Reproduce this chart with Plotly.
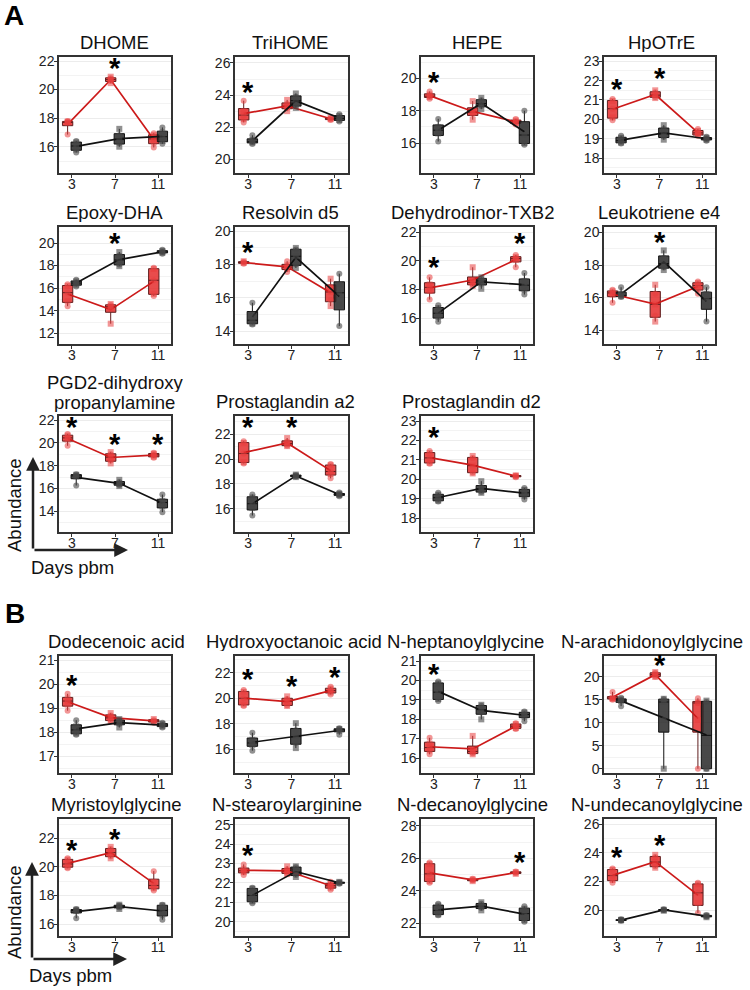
import numpy as np
import plotly.graph_objects as go

DAYS = ["3", "7", "11"]

# ---------------- data: replicate abundances per day [3, 7, 11] ----------------
DHOME_RED = [[16.85, 17.68, 17.72, 17.76, 17.8], [20.45, 20.6, 20.7, 20.8, 20.9], [15.95, 16.3, 16.55, 16.8, 16.95]]
DHOME_BLACK = [[15.6, 15.8, 16.05, 16.3, 16.4], [16.0, 16.25, 16.5, 16.8, 17.25], [16.2, 16.4, 16.7, 17.0, 17.35]]
DHOME_SIG = ["7"]
DHOME_TICKS = [16, 18, 20, 22]

TRIHOME_RED = [[22.3, 22.5, 22.75, 23.0, 23.65], [23.0, 23.2, 23.3, 23.45, 23.7], [22.45, 22.5, 22.55, 22.6]]
TRIHOME_BLACK = [[20.95, 21.05, 21.1, 21.2, 21.5], [23.2, 23.35, 23.65, 23.9, 24.1], [22.35, 22.45, 22.55, 22.7, 22.8]]
TRIHOME_SIG = ["3"]
TRIHOME_TICKS = [20, 22, 24, 26]

HEPE_RED = [[18.75, 18.85, 18.9, 19.0, 19.2], [17.45, 17.8, 17.9, 18.05, 18.6], [17.15, 17.25, 17.3, 17.4, 17.5]]
HEPE_BLACK = [[16.1, 16.6, 16.8, 17.0, 17.5], [18.1, 18.3, 18.45, 18.65, 18.8], [15.9, 16.0, 16.5, 17.1, 18.0]]
HEPE_SIG = ["3"]
HEPE_TICKS = [16, 18, 20]

HPOTRE_RED = [[19.95, 20.1, 20.55, 20.95, 21.05], [21.1, 21.15, 21.25, 21.4, 21.5], [19.15, 19.2, 19.3, 19.4, 19.5]]
HPOTRE_BLACK = [[18.75, 18.8, 18.9, 19.05, 19.15], [18.95, 19.1, 19.25, 19.5, 19.7], [18.9, 18.95, 19.0, 19.05, 19.1]]
HPOTRE_SIG = ["3", "7"]
HPOTRE_TICKS = [18, 19, 20, 21, 22, 23]

EPOXY_RED = [[14.4, 14.85, 15.6, 16.2, 16.35], [12.85, 14.2, 14.35, 14.5, 14.6], [15.3, 15.5, 16.7, 17.7, 17.8]]
EPOXY_BLACK = [[16.15, 16.3, 16.45, 16.6, 16.75], [17.95, 18.1, 18.5, 18.9, 19.2], [19.05, 19.15, 19.2, 19.3, 19.4]]
EPOXY_SIG = ["7"]
EPOXY_TICKS = [12, 14, 16, 18, 20]

RESOLVIN_RED = [[18.05, 18.1, 18.15, 18.2], [17.55, 17.75, 17.85, 17.95, 18.2], [15.5, 15.85, 16.35, 16.65, 17.15]]
RESOLVIN_BLACK = [[14.4, 14.45, 14.65, 15.0, 15.7], [17.8, 18.0, 18.5, 18.9, 19.0], [14.3, 15.6, 16.3, 16.8, 17.45]]
RESOLVIN_SIG = ["3"]
RESOLVIN_TICKS = [14, 16, 18, 20]

TXB2_RED = [[17.3, 17.9, 18.15, 18.35, 18.85], [18.25, 18.35, 18.5, 18.65, 19.55], [19.55, 20.05, 20.15, 20.25, 20.4]]
TXB2_BLACK = [[15.75, 16.1, 16.35, 16.7, 16.9], [18.05, 18.4, 18.6, 18.75, 18.85], [17.65, 18.0, 18.3, 18.6, 19.15]]
TXB2_SIG = ["3", "11"]
TXB2_TICKS = [16, 18, 20, 22]

LTE4_RED = [[15.7, 16.2, 16.3, 16.4, 16.5], [14.55, 14.9, 15.6, 16.25, 16.8], [16.25, 16.55, 16.75, 16.9, 17.0]]
LTE4_BLACK = [[16.05, 16.1, 16.15, 16.25, 16.65], [17.7, 17.85, 18.1, 18.45, 18.9], [14.55, 15.55, 15.95, 16.25, 16.65]]
LTE4_SIG = ["7"]
LTE4_TICKS = [14, 16, 18, 20]

PGD2DP_RED = [[19.75, 20.3, 20.45, 20.65, 20.8], [18.2, 18.45, 18.75, 19.0, 19.2], [18.7, 18.8, 18.95, 19.05, 19.15]]
PGD2DP_BLACK = [[16.25, 17.05, 17.1, 17.2, 17.25], [16.2, 16.3, 16.4, 16.55, 16.75], [13.9, 14.4, 14.75, 14.9, 15.45]]
PGD2DP_SIG = ["3", "7", "11"]
PGD2DP_TICKS = [14, 16, 18, 20, 22]

PGA2_RED = [[19.65, 19.75, 20.45, 21.3, 21.45], [21.05, 21.1, 21.25, 21.4, 21.7], [18.45, 18.8, 19.0, 19.5, 19.6]]
PGA2_BLACK = [[15.45, 16.05, 16.4, 16.9, 17.15], [18.55, 18.6, 18.65, 18.7, 18.75], [17.0, 17.1, 17.15, 17.2, 17.3]]
PGA2_SIG = ["3", "7"]
PGA2_TICKS = [16, 18, 20, 22]

PGD2_RED = [[20.8, 20.85, 21.1, 21.35, 21.45], [20.3, 20.35, 20.7, 21.1, 21.2], [20.1, 20.15, 20.18, 20.2]]
PGD2_BLACK = [[18.85, 18.9, 19.05, 19.2, 19.3], [19.3, 19.35, 19.5, 19.6, 19.9], [18.95, 19.15, 19.3, 19.45, 19.55]]
PGD2_SIG = ["3"]
PGD2_TICKS = [18, 19, 20, 21, 22, 23]

DODEC_RED = [[18.9, 19.15, 19.3, 19.4, 19.6], [18.45, 18.5, 18.6, 18.7, 18.8], [18.4, 18.45, 18.5, 18.55]]
DODEC_BLACK = [[17.9, 17.95, 18.1, 18.25, 18.5], [18.2, 18.35, 18.42, 18.5, 18.55], [18.2, 18.25, 18.3, 18.35, 18.4]]
DODEC_SIG = ["3"]
DODEC_TICKS = [17, 18, 19, 20, 21]

HYDROXY_RED = [[19.4, 19.5, 20.0, 20.5, 20.65], [19.4, 19.45, 19.75, 19.95, 20.15], [20.3, 20.45, 20.6, 20.75, 20.9]]
HYDROXY_BLACK = [[15.9, 16.35, 16.5, 16.75, 17.3], [16.1, 16.5, 17.0, 17.5, 18.05], [17.15, 17.45, 17.55, 17.6, 17.65]]
HYDROXY_SIG = ["3", "7", "11"]
HYDROXY_TICKS = [16, 18, 20, 22]

HEPTA_RED = [[16.2, 16.4, 16.55, 16.75, 17.05], [16.2, 16.25, 16.35, 16.45, 17.15], [17.5, 17.55, 17.65, 17.75, 17.8]]
HEPTA_BLACK = [[18.95, 19.05, 19.4, 19.85, 19.95], [18.0, 18.35, 18.5, 18.7, 18.75], [17.9, 18.15, 18.25, 18.35, 18.4]]
HEPTA_SIG = ["3"]
HEPTA_TICKS = [16, 17, 18, 19, 20, 21]

ARACH_RED = [[15.0, 15.2, 15.3, 15.35, 16.7], [19.95, 20.05, 20.45, 20.8, 21.0], [0.0, 10.6, 14.3, 14.4, 15.3]]
ARACH_BLACK = [[13.6, 14.7, 14.9, 15.1, 15.4], [0.0, 10.6, 14.5, 15.1, 15.2], [0.0, 0.0, 14.5, 14.8]]
ARACH_SIG = ["7"]
ARACH_TICKS = [0, 5, 10, 15, 20]

MYRIS_RED = [[19.9, 20.0, 20.2, 20.5, 20.6], [20.6, 20.75, 21.0, 21.25, 21.4], [18.35, 18.5, 18.7, 18.95, 19.7]]
MYRIS_BLACK = [[16.4, 16.9, 16.95, 17.0, 17.05], [17.05, 17.15, 17.25, 17.3, 17.35], [16.3, 16.65, 16.95, 17.3, 17.35]]
MYRIS_SIG = ["3", "7"]
MYRIS_TICKS = [16, 18, 20, 22]

STEAR_RED = [[22.4, 22.55, 22.62, 22.7, 22.95], [22.45, 22.5, 22.6, 22.7, 22.85], [21.65, 21.75, 21.85, 21.95, 22.05]]
STEAR_BLACK = [[20.95, 21.05, 21.35, 21.7, 21.75], [22.3, 22.4, 22.55, 22.8, 22.85], [21.95, 22.0, 22.02, 22.05]]
STEAR_SIG = ["3"]
STEAR_TICKS = [20, 21, 22, 23, 24, 25]

DECAN_RED = [[24.5, 24.6, 25.05, 25.65, 25.75], [24.6, 24.65, 24.7, 24.75], [25.05, 25.1, 25.15, 25.2]]
DECAN_BLACK = [[22.5, 22.55, 22.8, 23.1, 23.2], [22.8, 22.95, 23.05, 23.2, 23.3], [22.1, 22.2, 22.6, 22.9, 23.05]]
DECAN_SIG = ["11"]
DECAN_TICKS = [22, 24, 26, 28]

UNDEC_RED = [[21.9, 22.1, 22.4, 22.8, 22.9], [22.95, 23.05, 23.35, 23.7, 23.85], [19.8, 20.5, 21.2, 21.8, 21.9]]
UNDEC_BLACK = [[19.25, 19.28, 19.3, 19.32, 19.35], [19.95, 20.0, 20.02, 20.05], [19.5, 19.55, 19.6, 19.65]]
UNDEC_SIG = ["3", "7"]
UNDEC_TICKS = [20, 22, 24, 26]

TITLES = ["DHOME", "TriHOME", "HEPE", "HpOTrE",
          "Epoxy-DHA", "Resolvin d5", "Dehydrodinor-TXB2", "Leukotriene e4",
          ["PGD2-dihydroxy", "propanylamine"], "Prostaglandin a2", "Prostaglandin d2",
          "Dodecenoic acid", "Hydroxyoctanoic acid", "N-heptanoylglycine", "N-arachidonoylglycine",
          "Myristoylglycine", "N-stearoylarginine", "N-decanoylglycine", "N-undecanoylglycine"]
RED = [DHOME_RED, TRIHOME_RED, HEPE_RED, HPOTRE_RED, EPOXY_RED, RESOLVIN_RED, TXB2_RED, LTE4_RED,
       PGD2DP_RED, PGA2_RED, PGD2_RED, DODEC_RED, HYDROXY_RED, HEPTA_RED, ARACH_RED,
       MYRIS_RED, STEAR_RED, DECAN_RED, UNDEC_RED]
BLACK = [DHOME_BLACK, TRIHOME_BLACK, HEPE_BLACK, HPOTRE_BLACK, EPOXY_BLACK, RESOLVIN_BLACK, TXB2_BLACK, LTE4_BLACK,
         PGD2DP_BLACK, PGA2_BLACK, PGD2_BLACK, DODEC_BLACK, HYDROXY_BLACK, HEPTA_BLACK, ARACH_BLACK,
         MYRIS_BLACK, STEAR_BLACK, DECAN_BLACK, UNDEC_BLACK]
SIG = [DHOME_SIG, TRIHOME_SIG, HEPE_SIG, HPOTRE_SIG, EPOXY_SIG, RESOLVIN_SIG, TXB2_SIG, LTE4_SIG,
       PGD2DP_SIG, PGA2_SIG, PGD2_SIG, DODEC_SIG, HYDROXY_SIG, HEPTA_SIG, ARACH_SIG,
       MYRIS_SIG, STEAR_SIG, DECAN_SIG, UNDEC_SIG]
TICKS = [DHOME_TICKS, TRIHOME_TICKS, HEPE_TICKS, HPOTRE_TICKS, EPOXY_TICKS, RESOLVIN_TICKS, TXB2_TICKS, LTE4_TICKS,
         PGD2DP_TICKS, PGA2_TICKS, PGD2_TICKS, DODEC_TICKS, HYDROXY_TICKS, HEPTA_TICKS, ARACH_TICKS,
         MYRIS_TICKS, STEAR_TICKS, DECAN_TICKS, UNDEC_TICKS]

# ---------------- layout (pixel geometry) ----------------
W, H = 750, 990
COLS = [(59, 171), (235, 348), (421, 533), (604, 715)]
ROWS = [(57, 173), (227, 344), (416, 532), (656, 773), (819, 936)]
GRID = [(0, 0), (0, 1), (0, 2), (0, 3), (1, 0), (1, 1), (1, 2), (1, 3), (2, 0), (2, 1), (2, 2),
        (3, 0), (3, 1), (3, 2), (3, 3), (4, 0), (4, 1), (4, 2), (4, 3)]
TITLE_X = [115, 289.5, 477, 661, 114.5, 290, 473, 659, 114.5, 285, 471, 116, 294, 466, 652,
           116, 287, 472, 657]
YRANGE = [[14.16, 22.28], [19.15, 26.37], [14.15, 21.33], [17.23, 23.22],
          [11.05, 21.42], [13.22, 20.26], [14.21, 22.35], [13.18, 20.33],
          [12.15, 22.38], [14.12, 23.48], [17.28, 23.26],
          [16.31, 21.17], [14.15, 23.31], [15.24, 21.26], [-0.93, 24.5],
          [15.16, 23.35], [19.26, 25.29], [21.22, 28.43], [18.19, 26.35]]
STAR_Y = [[21.62], [24.32], [19.9], [21.65, 22.23],
          [20.15], [18.9], [19.72, 21.35], [19.55],
          [21.56, 20.06, 20.06], [22.73, 22.73], [22.27],
          [20.05], [21.7, 21.12, 21.83], [20.45], [22.9],
          [21.3, 22.07], [23.55], [25.9], [23.83, 24.7]]

FONT = "Liberation Sans, Arial, sans-serif"
GROUPS = [
    dict(off=-0.1, fill="rgba(228,36,36,0.82)", edge="rgb(95,30,30)", pt="rgba(232,62,62,0.55)", line="#cc1a1a"),
    dict(off=0.1, fill="rgba(40,40,40,0.85)", edge="#111111", pt="rgba(70,70,70,0.6)", line="#111111"),
]

fig = go.Figure()
layout = dict(width=W, height=H, margin=dict(l=0, r=0, t=0, b=0, autoexpand=False),
              paper_bgcolor="white", plot_bgcolor="white", showlegend=False,
              font=dict(family=FONT, color="#111"), boxmode="overlay")
annotations = []

for i, title in enumerate(TITLES):
    r, c = GRID[i]
    x0, x1 = COLS[c]
    y0, y1 = ROWS[r]
    sfx = "" if i == 0 else str(i + 1)
    xref, yref = "x" + sfx, "y" + sfx
    ticks = TICKS[i]
    step = ticks[1] - ticks[0]
    minor = [t - step / 2 for t in ticks] + [ticks[-1] + step / 2]
    layout["xaxis" + sfx] = dict(domain=[x0 / W, x1 / W], anchor=yref, range=[0.7, 3.3],
                                 tickvals=[1, 2, 3], ticktext=DAYS, showgrid=False, zeroline=False,
                                 showline=True, mirror=True, linecolor="#333", linewidth=1.5,
                                 ticks="outside", ticklen=3, tickcolor="#333", ticklabelstandoff=-6,
                                 tickfont=dict(size=14, color="#222", family=FONT))
    layout["yaxis" + sfx] = dict(domain=[1 - y1 / H, 1 - y0 / H], anchor=xref, range=YRANGE[i],
                                 tickvals=ticks, showgrid=True, gridcolor="#ececec", gridwidth=0.7,
                                 zeroline=False, showline=True, mirror=True, linecolor="#333",
                                 linewidth=1.5, ticks="outside", ticklen=3, tickcolor="#333",
                                 ticklabelstandoff=-3,
                                 tickfont=dict(size=14, color="#222", family=FONT),
                                 minor=dict(tickvals=minor, showgrid=True, gridcolor="#f3f3f3",
                                            gridwidth=0.6, ticks=""))

    for g, data in zip(GROUPS, (RED[i], BLACK[i])):
        bx, by = [], []
        for k, pts in enumerate(data):
            bx += [k + 1 + g["off"]] * len(pts)
            by += pts
        means = [float(np.mean(p)) for p in data]
        fig.add_trace(go.Box(x=bx, y=by, xaxis=xref, yaxis=yref, width=0.24, boxpoints=False,
                             fillcolor=g["fill"], line=dict(color=g["edge"], width=1),
                             whiskerwidth=0, quartilemethod="linear", hoverinfo="skip"))
        fig.add_trace(go.Scatter(x=[k + 1 + g["off"] for k in range(3)], y=means, xaxis=xref,
                                 yaxis=yref, mode="lines", line=dict(color=g["line"], width=1.7),
                                 hoverinfo="skip"))
        syms = [("circle" if j % 2 == 0 else "square") for j in range(len(bx))]
        fig.add_trace(go.Scatter(x=bx, y=by, xaxis=xref, yaxis=yref, mode="markers",
                                 marker=dict(color=g["pt"], size=6, symbol=syms, line=dict(width=0)),
                                 hoverinfo="skip"))

    # panel title
    tx = TITLE_X[i] / W
    if isinstance(title, list):
        for line, ly in zip(title, (382, 402)):
            annotations.append(dict(text=line, xref="paper", yref="paper", x=tx, y=1 - ly / H,
                                    xanchor="center", yanchor="middle", showarrow=False, height=20,
                                    font=dict(size=18.5, color="#111", family=FONT)))
    else:
        annotations.append(dict(text=title, xref="paper", yref="paper", x=tx,
                                y=1 - (y0 - 15) / H, xanchor="center", yanchor="middle",
                                showarrow=False, height=20,
                                font=dict(size=18.5, color="#111", family=FONT)))
    # significance asterisks
    for d, sy in zip(SIG[i], STAR_Y[i]):
        annotations.append(dict(text="<b>*</b>", xref=xref, yref=yref, x=DAYS.index(d) + 1, y=sy,
                                xanchor="center", yanchor="middle", yshift=-2, showarrow=False,
                                font=dict(size=29, color="black", family=FONT)))

# panel letters
annotations.append(dict(text="<b>A</b>", xref="paper", yref="paper", x=14 / W, y=1 - 16 / H,
                        xanchor="center", yanchor="middle", showarrow=False,
                        font=dict(size=28, color="black", family=FONT)))
annotations.append(dict(text="<b>B</b>", xref="paper", yref="paper", x=15 / W, y=1 - 613 / H,
                        xanchor="center", yanchor="middle", showarrow=False,
                        font=dict(size=28, color="black", family=FONT)))

# axis legend arrows
for (cx, cy, top, right, ab_x, ab_y, dp_x, dp_y) in [(33, 550, 457, 128, 15, 505, 72, 567),
                                                     (32, 959, 862, 127, 14, 912, 70, 975)]:
    annotations.append(dict(x=cx / W, y=1 - top / H, xref="paper", yref="paper", ax=0, ay=cy - top,
                            text="", showarrow=True, arrowhead=2, arrowsize=1.1, arrowwidth=2.5,
                            arrowcolor="#222", standoff=0))
    annotations.append(dict(x=right / W, y=1 - cy / H, xref="paper", yref="paper", ax=-(right - cx), ay=0,
                            text="", showarrow=True, arrowhead=2, arrowsize=1.1, arrowwidth=2.5,
                            arrowcolor="#222", standoff=0))
    annotations.append(dict(text="Abundance", x=ab_x / W, y=1 - ab_y / H, xref="paper", yref="paper",
                            textangle=-90, showarrow=False, xanchor="center", yanchor="middle",
                            font=dict(size=18.5, color="#111", family=FONT)))
    annotations.append(dict(text="Days pbm", x=dp_x / W, y=1 - dp_y / H, xref="paper", yref="paper",
                            showarrow=False, xanchor="center", yanchor="middle",
                            font=dict(size=18.5, color="#111", family=FONT)))

layout["annotations"] = annotations
fig.update_layout(**layout)
fig.write_html("out.html", config={"displayModeBar": False},
               post_script="document.body.style.margin='0px';")
